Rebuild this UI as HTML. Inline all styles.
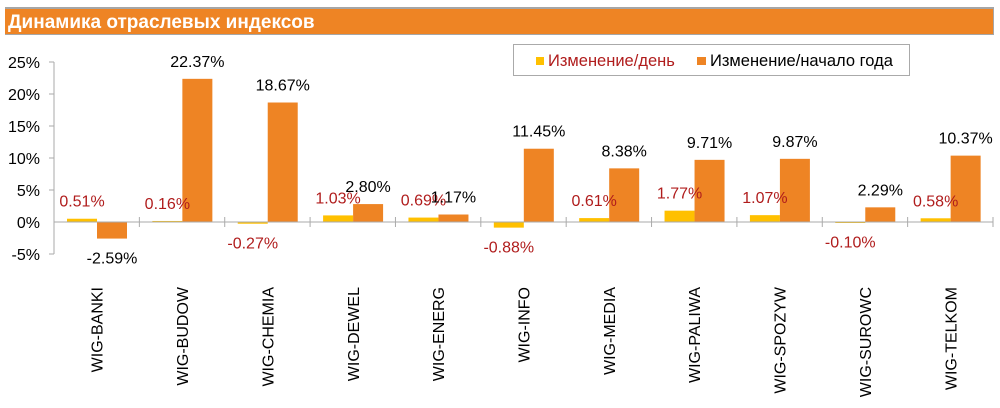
<!DOCTYPE html>
<html><head><meta charset="utf-8"><style>
body{margin:0;background:#fff;width:1000px;height:403px;overflow:hidden}
text{font-family:"Liberation Sans",Arial,sans-serif}
</style></head><body>
<svg width="1000" height="403" xmlns="http://www.w3.org/2000/svg">
<rect x="5" y="7" width="989" height="28" fill="#a6a6a6"/>
<rect x="5" y="9" width="988" height="25" fill="#ee8424"/>
<text x="8" y="28" font-size="19" font-weight="bold" fill="#fff">Динамика отраслевых индексов</text>
<rect x="513.5" y="44.5" width="396" height="31" fill="#fff" stroke="#aaa"/>
<rect x="536" y="57" width="8" height="8" fill="#ffc000"/>
<text x="548" y="66" font-size="16.5" fill="#b01c1c">Изменение/день</text>
<rect x="697" y="57" width="9" height="8" fill="#ee8424"/>
<text x="710" y="66" font-size="16.5" fill="#000">Изменение/начало года</text>
<g font-size="16" fill="#000" text-anchor="end">
<text x="40" y="68">25%</text><text x="40" y="100">20%</text><text x="40" y="132">15%</text>
<text x="40" y="164">10%</text><text x="40" y="196">5%</text><text x="40" y="228">0%</text><text x="40" y="260">-5%</text>
</g>
<g stroke="#aaa" stroke-width="1">
<line x1="54" y1="62" x2="54" y2="254"/>
<line x1="49" y1="62" x2="54" y2="62"/><line x1="49" y1="94" x2="54" y2="94"/><line x1="49" y1="126" x2="54" y2="126"/>
<line x1="49" y1="158" x2="54" y2="158"/><line x1="49" y1="190" x2="54" y2="190"/><line x1="49" y1="254" x2="54" y2="254"/>
</g>
<g id="bars"></g>
<g stroke="#aaa" stroke-width="1" id="ax"></g>
<g id="lbl"></g>
<script>
var cats=["WIG-BANKI","WIG-BUDOW","WIG-CHEMIA","WIG-DEWEL","WIG-ENERG","WIG-INFO","WIG-MEDIA","WIG-PALIWA","WIG-SPOZYW","WIG-SUROWC","WIG-TELKOM"];
var d=[0.51,0.16,-0.27,1.03,0.69,-0.88,0.61,1.77,1.07,-0.10,0.58];
var y=[-2.59,22.37,18.67,2.80,1.17,11.45,8.38,9.71,9.87,2.29,10.37];
var ns="http://www.w3.org/2000/svg",z=222,k=6.4,sp=939/11;
function el(t,a,p,tx){var e=document.createElementNS(ns,t);for(var q in a)e.setAttribute(q,a[q]);if(tx)e.textContent=tx;document.getElementById(p).appendChild(e);}
function lab(x,v,c){var h=v*k;var yy=v>=0?z-h-12:z-h+25;el("text",{x:x,y:yy,"font-size":16,fill:c,"text-anchor":"middle"},"lbl",v.toFixed(2)+"%");}
for(var i=0;i<11;i++){var t=54+i*sp;
 var h=d[i]*k;el("rect",{x:t+13,y:Math.min(z,z-h),width:30,height:Math.max(Math.abs(h),1),fill:"#ffc000"},"bars");
 var h2=y[i]*k;el("rect",{x:t+43,y:Math.min(z,z-h2),width:30,height:Math.abs(h2),fill:"#ee8424"},"bars");
 lab(t+28,d[i],"#b01c1c");lab(t+58,y[i],"#000");
 var cx=t+sp/2+6;el("text",{transform:"translate("+cx+",287) rotate(-90)","font-size":16,fill:"#000","text-anchor":"end"},"lbl",cats[i]);
 el("line",{x1:t+sp,y1:z-5,x2:t+sp,y2:z+5},"ax");
}
el("line",{x1:54,y1:z,x2:993,y2:z},"ax");
</script>
</svg>
</body></html>
